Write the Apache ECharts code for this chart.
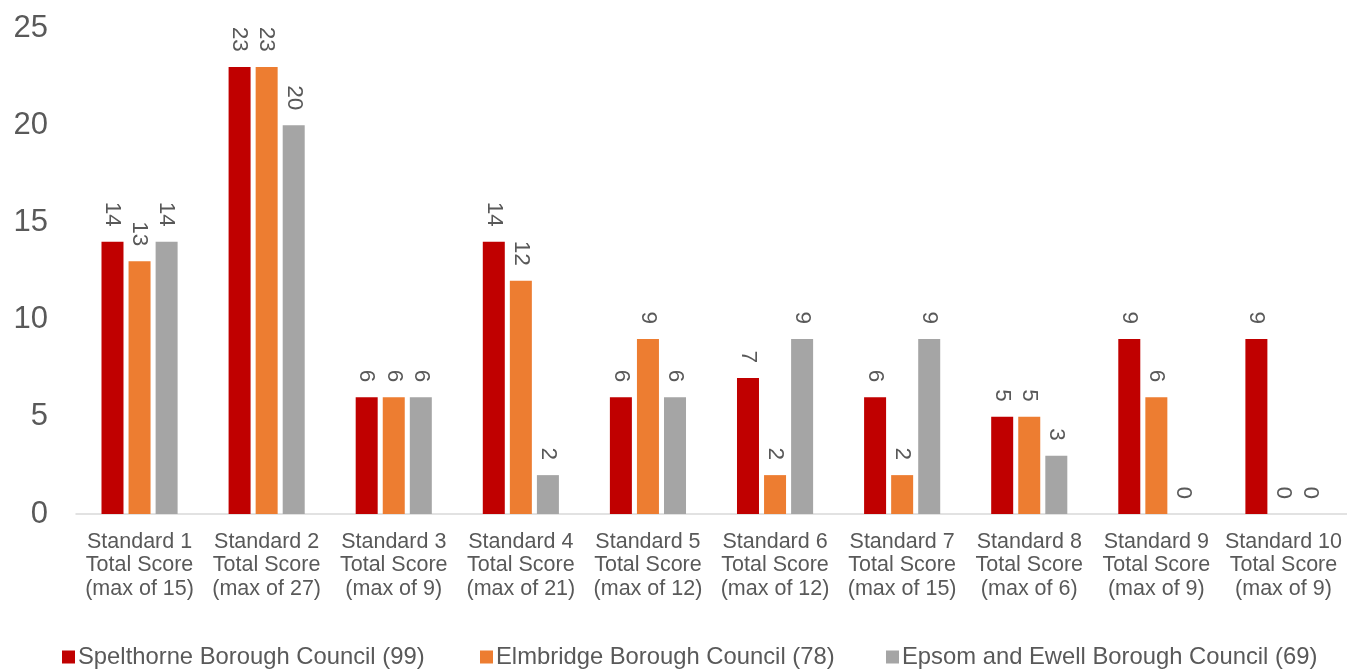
<!DOCTYPE html>
<html><head><meta charset="utf-8">
<script src="https://cdn.jsdelivr.net/npm/echarts@6/dist/echarts.min.js"></script>
<style>html,body{margin:0;padding:0;background:#fff}#c{width:1347px;height:669px}</style>
</head><body><div id="c"></div>
<script>
var categories = [
  "Standard 1\nTotal Score\n(max of 15)",
  "Standard 2\nTotal Score\n(max of 27)",
  "Standard 3\nTotal Score\n(max of 9)",
  "Standard 4\nTotal Score\n(max of 21)",
  "Standard 5\nTotal Score\n(max of 12)",
  "Standard 6\nTotal Score\n(max of 12)",
  "Standard 7\nTotal Score\n(max of 15)",
  "Standard 8\nTotal Score\n(max of 6)",
  "Standard 9\nTotal Score\n(max of 9)",
  "Standard 10\nTotal Score\n(max of 9)"
];
var seriesNames = ["Spelthorne Borough Council (99)", "Elmbridge Borough Council (78)", "Epsom and Ewell Borough Council (69)"];
var spelthorne = [14, 23, 6, 14, 6, 7, 6, 5, 9, 9];
var elmbridge  = [13, 23, 6, 12, 9, 2, 2, 5, 6, 0];
var epsom      = [14, 20, 6, 2, 6, 9, 9, 3, 0, 0];
var yTicks = [0, 5, 10, 15, 20, 25];
var colors = ["#C00000", "#ED7D31", "#A5A5A5"];

var font = "'Liberation Sans', Arial, sans-serif";
var textColor = "#595959";
function mkSeries(name, data, color) {
  return {
    name: name, type: "bar", data: data,
    barWidth: 22, barGap: "23%",
    itemStyle: { color: color },
    label: {
      show: true, position: "top", rotate: -90, align: "right", verticalAlign: "middle",
      distance: 15, fontFamily: font, fontSize: 22.5, color: textColor
    }
  };
}
var chart = echarts.init(document.getElementById("c"), null, { renderer: "canvas" });
var legendBase = { top: 640, itemWidth: 13, itemHeight: 13, itemGap: 0, icon: "rect",
  textStyle: { fontFamily: font, fontSize: 23.8, color: textColor, padding: [0, 0, 0, -2] } };
chart.setOption({
  animation: false,
  color: colors,
  grid: { left: 76, right: -3, top: 28, bottom: 155, containLabel: false },
  legend: [
    Object.assign({}, legendBase, { left: 57, data: [seriesNames[0]] }),
    Object.assign({}, legendBase, { left: 475, data: [seriesNames[1]] }),
    Object.assign({}, legendBase, { left: 881, data: [seriesNames[2]] })
  ],
  xAxis: {
    type: "category", data: categories,
    axisLine: { lineStyle: { color: "#D9D9D9", width: 1.5 } },
    axisTick: { show: false },
    axisLabel: { interval: 0, margin: 16, fontFamily: font, fontSize: 21.5, lineHeight: 23.5, color: textColor }
  },
  yAxis: {
    type: "value", min: 0, max: 25, interval: 5,
    splitLine: { show: false }, axisLine: { show: false }, axisTick: { show: false },
    axisLabel: { margin: 28, fontFamily: font, fontSize: 31, color: textColor,
      formatter: function (v) { return yTicks.indexOf(v) >= 0 ? String(v) : ""; } }
  },
  series: [
    mkSeries(seriesNames[0], spelthorne, colors[0]),
    mkSeries(seriesNames[1], elmbridge, colors[1]),
    mkSeries(seriesNames[2], epsom, colors[2])
  ]
});
</script></body></html>
